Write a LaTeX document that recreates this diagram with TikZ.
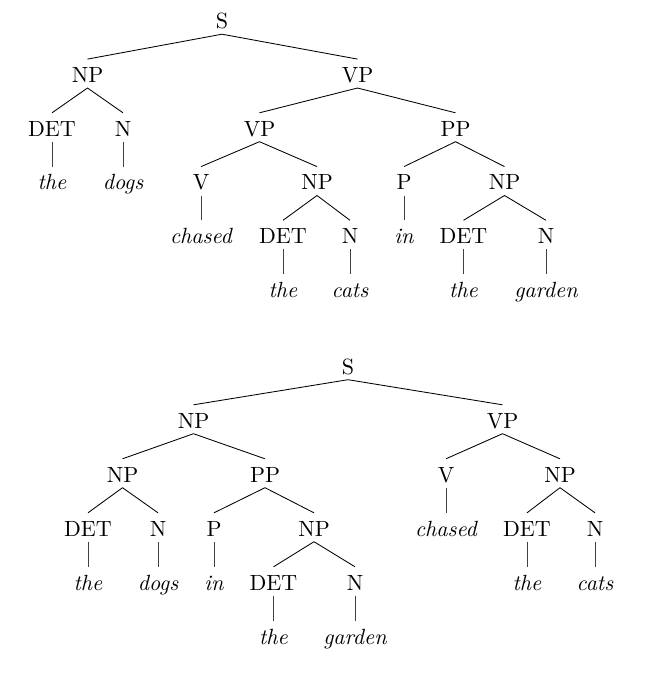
\documentclass[tikz,border=0pt]{standalone}
\usepackage{fontspec}
\setmainfont{lmroman10-regular.otf}[ItalicFont=lmroman10-italic.otf]
\begin{document}
\begin{tikzpicture}[x=1pt,y=-1pt,
  cat/.style={anchor=base,inner sep=0pt,text height=23pt,text depth=5.5pt,font=\fontsize{22}{26}\selectfont},
  leaf/.style={cat,font=\fontsize{22}{26}\selectfont\itshape},
  br/.style={draw=black,line width=0.85pt},
  stem/.style={draw=black!75,line width=0.8pt}]
\useasboundingbox (0,0) rectangle (654,686);
% ---------------- Tree 1 ----------------
\node[cat] (S1) at (222,28.5) {S};
\node[cat] (NPa) at (87.5,82.3) {NP};
\node[cat] (VPa) at (357.5,82.3) {VP};
\node[cat] (DETa) at (52,136) {DET};
\node[cat] (Na) at (123,136) {N};
\node[leaf] (thea) at (52,189.8) {the};
\node[leaf] (dogsa) at (123,189.8) {dogs};
\node[cat] (VPb) at (259.5,136) {VP};
\node[cat] (PPa) at (455.5,136) {PP};
\node[cat] (Va) at (201,189.8) {V};
\node[cat] (NPb) at (317,189.8) {NP};
\node[leaf] (chaseda) at (201,243.5) {chased};
\node[cat] (DETb) at (283,243.5) {DET};
\node[cat] (Nb) at (350,243.5) {N};
\node[leaf] (theb) at (283,297) {the};
\node[leaf] (catsb) at (350,297) {cats};
\node[cat] (Pa) at (404,189.8) {P};
\node[cat] (NPc) at (504.5,189.8) {NP};
\node[leaf] (ina) at (404,243.5) {in};
\node[cat] (DETc) at (463.5,243.5) {DET};
\node[cat] (Nc) at (546,243.5) {N};
\node[leaf] (thec) at (463.5,297) {the};
\node[leaf] (gardenc) at (546,297) {garden};
\path[br] (S1.south) -- (NPa.north) (S1.south) -- (VPa.north)
  (NPa.south) -- (DETa.north) (NPa.south) -- (Na.north)
  (VPa.south) -- (VPb.north) (VPa.south) -- (PPa.north)
  (VPb.south) -- (Va.north) (VPb.south) -- (NPb.north)
  (NPb.south) -- (DETb.north) (NPb.south) -- (Nb.north)
  (PPa.south) -- (Pa.north) (PPa.south) -- (NPc.north)
  (NPc.south) -- (DETc.north) (NPc.south) -- (Nc.north);
\path[stem] (DETa.south) -- (thea.north) (Na.south) -- (dogsa.north)
  (Va.south) -- (chaseda.north) (DETb.south) -- (theb.north)
  (Nb.south) -- (catsb.north) (Pa.south) -- (ina.north)
  (DETc.south) -- (thec.north) (Nc.south) -- (gardenc.north);
% ---------------- Tree 2 ----------------
\node[cat] (S2) at (348,374) {S};
\node[cat] (NPd) at (193.5,428) {NP};
\node[cat] (VPd) at (502.5,428) {VP};
\node[cat] (NPe) at (122.5,482) {NP};
\node[cat] (PPe) at (265,482) {PP};
\node[cat] (DETe) at (88,536) {DET};
\node[cat] (Ne) at (158,536) {N};
\node[leaf] (thee) at (88,590) {the};
\node[leaf] (dogse) at (158,590) {dogs};
\node[cat] (Pe) at (214,536) {P};
\node[cat] (NPf) at (314,536) {NP};
\node[leaf] (ine) at (214,590) {in};
\node[cat] (DETf) at (273.5,590) {DET};
\node[cat] (Nf) at (355,590) {N};
\node[leaf] (thef) at (273.5,644) {the};
\node[leaf] (gardenf) at (355,644) {garden};
\node[cat] (Vd) at (446,482) {V};
\node[cat] (NPg) at (560,482) {NP};
\node[leaf] (chasedd) at (446,536) {chased};
\node[cat] (DETg) at (527,536) {DET};
\node[cat] (Ng) at (595,536) {N};
\node[leaf] (theg) at (527,590) {the};
\node[leaf] (catsg) at (595,590) {cats};
\path[br] (S2.south) -- (NPd.north) (S2.south) -- (VPd.north)
  (NPd.south) -- (NPe.north) (NPd.south) -- (PPe.north)
  (NPe.south) -- (DETe.north) (NPe.south) -- (Ne.north)
  (PPe.south) -- (Pe.north) (PPe.south) -- (NPf.north)
  (NPf.south) -- (DETf.north) (NPf.south) -- (Nf.north)
  (VPd.south) -- (Vd.north) (VPd.south) -- (NPg.north)
  (NPg.south) -- (DETg.north) (NPg.south) -- (Ng.north);
\path[stem] (DETe.south) -- (thee.north) (Ne.south) -- (dogse.north)
  (Pe.south) -- (ine.north) (DETf.south) -- (thef.north)
  (Nf.south) -- (gardenf.north) (Vd.south) -- (chasedd.north)
  (DETg.south) -- (theg.north) (Ng.south) -- (catsg.north);
\end{tikzpicture}
\end{document}
